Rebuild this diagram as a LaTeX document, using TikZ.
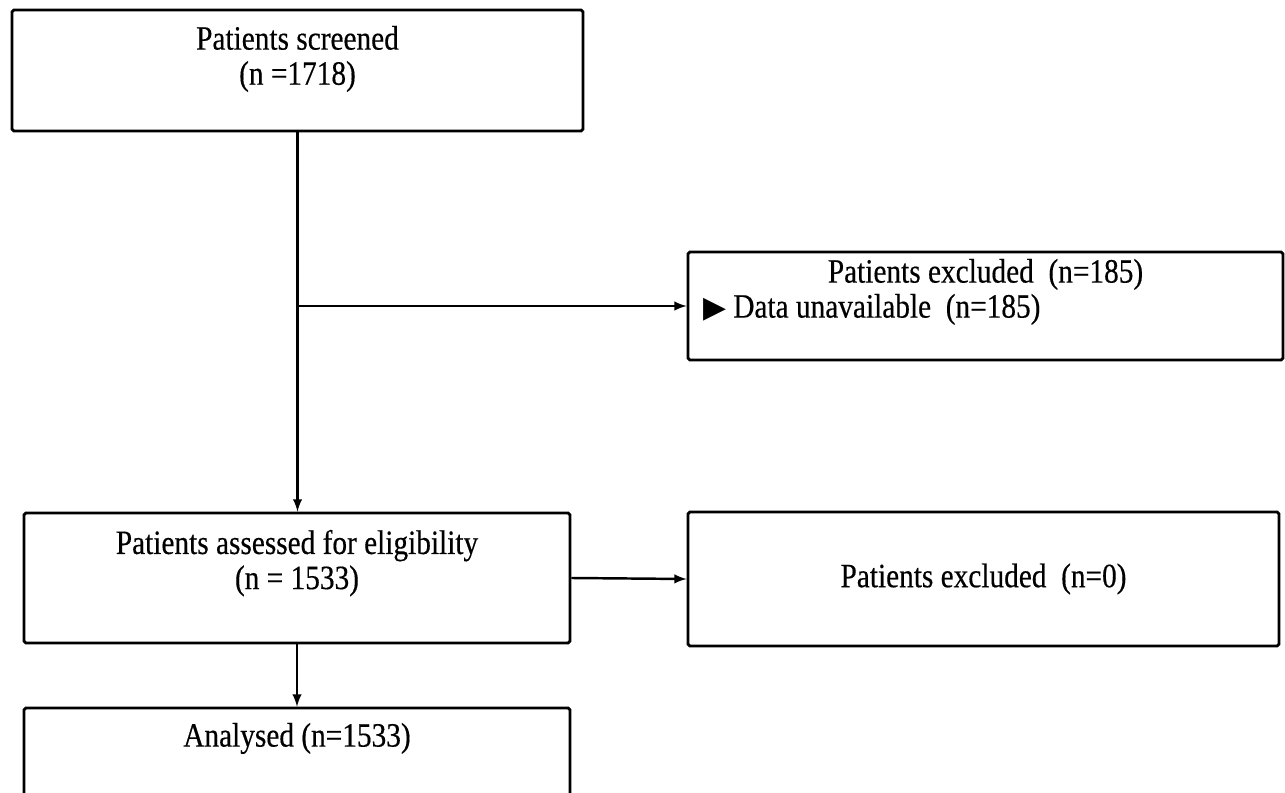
\documentclass[tikz,border=0pt]{standalone}
\usepackage{fontspec}
\setmainfont[FakeStretch=0.86,FakeBold=0.4]{Liberation Serif}
\newfontfamily\symfont{DejaVu Sans}
\usetikzlibrary{positioning,calc}

\begin{document}
\begin{tikzpicture}[
    x=0.02cm, y=-0.02cm,
    >=latex,
    font=\fontsize{19.4}{20}\selectfont,
    box/.style={rectangle, draw=black, line width=1.6pt, rounded corners=1pt, inner sep=0pt},
    boxtxt/.style={inner sep=0pt, align=center, anchor=north},
    arr/.style={->, line width=1.4pt}
]
    \useasboundingbox (0,0) rectangle (1285,793);
    \clip (0,0) rectangle (1285,793);

    % 1. Screening
    \node[box, minimum width=11.42cm, minimum height=2.42cm] (screen) at (297.5,70.5) {};
    \node[boxtxt, yshift=-0.34cm] (screentxt) at (screen.north) {Patients screened\\(n =1718)};

    % 2. Excluded after screening
    \node[box, minimum width=11.9cm, minimum height=2.16cm] (excl1) at (985.5,306) {};
    \node[boxtxt, yshift=-0.16cm] (excl1txt) at (excl1.north) {Patients excluded\ \ (n=185)};
    \node[inner sep=0pt, anchor=base west] (excl1why) at ($(excl1.west |- excl1txt.base)+(16,35)$)
        {{\symfont\fontsize{17}{17}\selectfont ▶}\ Data unavailable\ \ (n=185)};

    % 3. Eligibility
    \node[box, minimum width=10.92cm, minimum height=2.6cm] (assess) at (297,578) {};
    \node[boxtxt, yshift=-0.36cm] (assesstxt) at (assess.north) {Patients assessed for eligibility\\(n = 1533)};

    % 4. Excluded after eligibility
    \node[box, minimum width=11.82cm, minimum height=2.68cm] (excl2) at (983.5,579) {Patients excluded\ \ (n=0)};

    % 5. Analysed
    \node[box, minimum width=10.92cm, minimum height=2.4cm] (analysed) at (297,768) {};
    \node[boxtxt, yshift=-0.32cm] (analysedtxt) at (analysed.north) {Analysed (n=1533)};

    % Arrows
    \draw[arr] (screen.south) -- (screen.south |- assess.north);
    \draw[arr] (screen.south |- excl1.west) -- (excl1.west);
    \draw[arr] (assess.east) -- (excl2.west);
    \draw[arr] (assess.south) -- (analysed.north);

\end{tikzpicture}
\end{document}
